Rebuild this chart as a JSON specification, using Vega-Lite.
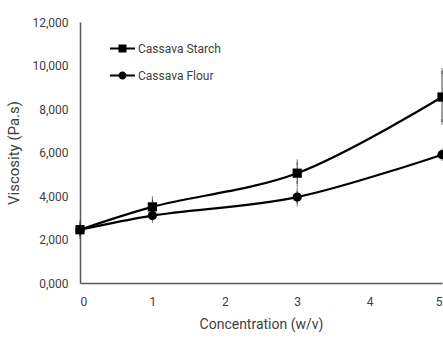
{
  "$schema": "https://vega.github.io/schema/vega-lite/v6.json",
  "autosize": "none",
  "width": 362,
  "height": 261,
  "padding": {"left": 80, "top": 22, "right": 1, "bottom": 57},
  "background": "white",
  "config": {
    "view": {"stroke": null},
    "font": "Roboto",
    "axis": {"grid": false, "ticks": false, "domainColor": "#595959", "domainWidth": 1.5, "labelColor": "#404040", "titleColor": "#404040", "labelFontSize": 12, "titleFontSize": 14, "titleFontWeight": "normal"}
  },
  "data": {
    "values": [
      {"series": "Cassava Starch", "conc": 0, "visc": 2450, "lo": 2150, "hi": 2750},
      {"series": "Cassava Starch", "conc": 1, "visc": 3500, "lo": 3150, "hi": 3850},
      {"series": "Cassava Starch", "conc": 3, "visc": 5050, "lo": 4550, "hi": 5550},
      {"series": "Cassava Starch", "conc": 5, "visc": 8550, "lo": 7400, "hi": 9750},
      {"series": "Cassava Flour", "conc": 0, "visc": 2450, "lo": 2250, "hi": 2650},
      {"series": "Cassava Flour", "conc": 1, "visc": 3100, "lo": 2900, "hi": 3300},
      {"series": "Cassava Flour", "conc": 3, "visc": 3950, "lo": 3650, "hi": 4250},
      {"series": "Cassava Flour", "conc": 5, "visc": 5900, "lo": 5750, "hi": 6050}
    ]
  },
  "encoding": {
    "x": {"field": "conc", "type": "quantitative", "scale": {"domain": [0, 5], "nice": false}, "axis": {"title": "Concentration (w/v)", "values": [0, 1, 2, 3, 4, 5], "format": "d", "labelPadding": 13, "titlePadding": 10}}
  },
  "layer": [
    {
      "mark": {"type": "rule", "color": "#404040", "strokeWidth": 1},
      "encoding": {
        "y": {"field": "lo", "type": "quantitative"},
        "y2": {"field": "hi"}
      }
    },
    {
      "mark": {"type": "tick", "color": "#404040", "thickness": 1, "size": 6},
      "encoding": {"y": {"field": "lo", "type": "quantitative"}}
    },
    {
      "mark": {"type": "tick", "color": "#404040", "thickness": 1, "size": 6},
      "encoding": {"y": {"field": "hi", "type": "quantitative"}}
    },
    {
      "mark": {"type": "line", "interpolate": "catmull-rom", "color": "black", "strokeWidth": 2.2},
      "encoding": {
        "y": {"field": "visc", "type": "quantitative"},
        "detail": {"field": "series"}
      }
    },
    {
      "mark": {"type": "point", "filled": true, "color": "black", "size": 85, "opacity": 1},
      "encoding": {
        "y": {"field": "visc", "type": "quantitative", "scale": {"domain": [0, 12000], "nice": false}, "axis": {"title": "Viscosity (Pa.s)", "titleFontSize": 15, "values": [0, 2000, 4000, 6000, 8000, 10000, 12000], "labelExpr": "datum.value === 0 ? '0,000' : datum.label", "labelPadding": 12, "titlePadding": 10}},
        "shape": {
          "field": "series", "type": "nominal",
          "scale": {"domain": ["Cassava Starch", "Cassava Flour"], "range": ["square", "circle"]},
          "legend": null
        }
      }
    },
    {
      "mark": {"type": "point", "filled": true, "color": "black", "opacity": 0},
      "encoding": {
        "y": {"field": "visc", "type": "quantitative"},
        "shape": {
          "field": "series", "type": "nominal",
          "scale": {"domain": ["Cassava Starch", "Cassava Flour"], "range": ["M-1,-0.08H1V0.08H-1ZM-0.32,-0.32H0.32V0.32H-0.32Z", "M-1,-0.08H1V0.08H-1ZM-0.32,0A0.32,0.32 0 1,1 0.32,0A0.32,0.32 0 1,1 -0.32,0Z"]},
          "legend": {
            "title": null, "orient": "none", "legendX": 30, "legendY": 14,
            "labelFontSize": 12, "labelColor": "#404040", "rowPadding": 8, "symbolSize": 625, "labelOffset": 3,
            "symbolFillColor": "black", "symbolStrokeColor": "black", "symbolStrokeWidth": 0, "symbolOpacity": 1
          }
        }
      }
    }
  ],
  "resolve": {"scale": {"y": "shared", "shape": "independent"}}
}
